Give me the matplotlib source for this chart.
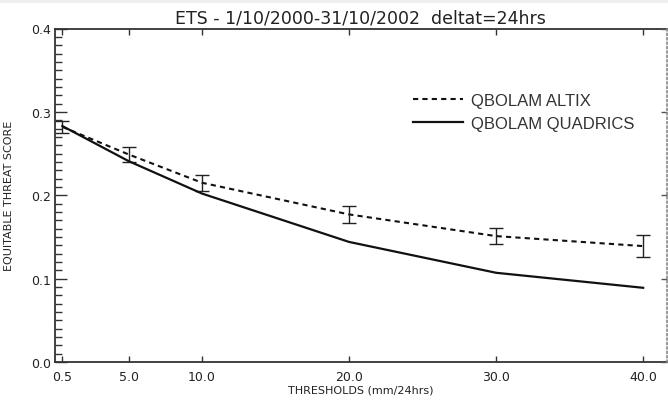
"""
ETS vs precipitation threshold for QBOLAM on ALTIX and QUADRICS.
"""

import matplotlib
matplotlib.use("Agg")
import matplotlib.pyplot as plt
from matplotlib.patches import Rectangle

thresholds = [0.5, 5.0, 10.0, 20.0, 30.0, 40.0]
tick_labels = ["0.5", "5.0", "10.0", "20.0", "30.0", "40.0"]
ets_altix = [0.282, 0.249, 0.215, 0.177, 0.151, 0.139]
err_altix = [0.007, 0.009, 0.0098, 0.010, 0.010, 0.0128]
ets_quadrics = [0.283, 0.241, 0.202, 0.144, 0.107, 0.089]
y_major = [0.0, 0.1, 0.2, 0.3, 0.4]
y_minor = [i / 100 for i in range(0, 41)]

AX_COLOR = "#333333"
LINE_COLOR = "#111111"


def main() -> None:
    fig = plt.figure(figsize=(6.68, 4.06), dpi=100)
    W, H = 668, 406
    x0, x1, y0, y1 = 55, 666.7, 29.5, 363
    ax = fig.add_axes([x0 / W, 1 - y1 / H, (x1 - x0) / W, (y1 - y0) / H])

    # thin grey band at the very top of the screenshot
    fig.add_artist(Rectangle((0, 1 - 4 / H), 1, 4 / H, transform=fig.transFigure,
                             color="#eeeeee", lw=0))

    l1, = ax.plot(thresholds, ets_altix, color=LINE_COLOR, lw=1.5,
                  linestyle=(0, (2.5, 2.0)), label="QBOLAM ALTIX")
    ax.errorbar(thresholds, ets_altix, yerr=err_altix, fmt="none",
                ecolor="#222222", elinewidth=1.0, capsize=5, capthick=1.0)
    l2, = ax.plot(thresholds, ets_quadrics, color=LINE_COLOR, lw=1.6,
                  label="QBOLAM QUADRICS")

    ax.set_xlim(0, 41.6)
    ax.set_ylim(0, 0.4)

    ax.set_xticks(thresholds)
    ax.set_xticklabels(tick_labels)
    ax.set_yticks(y_major)
    ax.set_yticklabels([f"{v:.1f}" for v in y_major])
    ax.set_yticks(y_minor, minor=True)

    ax.tick_params(axis="x", which="major", direction="in", length=4.3,
                   width=1.0, top=True, bottom=True, colors=AX_COLOR,
                   labelsize=9, pad=5.5)
    ax.tick_params(axis="y", which="major", direction="in", length=8.6,
                   width=1.0, left=True, right=False, colors=AX_COLOR,
                   labelsize=9, pad=3)
    ax.tick_params(axis="y", which="minor", direction="in", length=5,
                   width=1.0, left=True, right=False, colors=AX_COLOR)
    for lab in ax.get_xticklabels() + ax.get_yticklabels():
        lab.set_color("#222222")

    for side in ["left", "bottom", "top"]:
        ax.spines[side].set_color(AX_COLOR)
        ax.spines[side].set_linewidth(1.3)
    ax.spines["right"].set_visible(False)

    # right axis: dotted, only short major ticks
    ax2 = ax.twinx()
    ax2.set_ylim(0, 0.4)
    ax2.set_yticks(y_major)
    ax2.tick_params(axis="y", direction="in", length=4, width=1.0,
                    colors="#555555", labelright=False)
    for side in ["left", "bottom", "top"]:
        ax2.spines[side].set_visible(False)
    ax2.spines["right"].set_linestyle(":")
    ax2.spines["right"].set_color("#888888")
    ax2.spines["right"].set_linewidth(1.2)

    ax.set_title("ETS - 1/10/2000-31/10/2002  deltat=24hrs", fontsize=12.5,
                 color="#222222", pad=4)
    ax.set_xlabel("THRESHOLDS (mm/24hrs)", fontsize=8, color="#222222",
                  labelpad=1)
    ax.set_ylabel("EQUITABLE THREAT SCORE", fontsize=8, color="#222222",
                  labelpad=12)

    ax.legend(handles=[l1, l2], loc="upper left",
              bbox_to_anchor=((413 - x0) / (x1 - x0), 0.808),
              frameon=False, prop={"family": "Liberation Sans", "size": 12},
              handlelength=3.0, handletextpad=0.5, borderpad=0,
              borderaxespad=0, labelspacing=0.48, labelcolor="#333333")

    fig.savefig("out.png", dpi=100)
    plt.close(fig)


if __name__ == "__main__":
    main()
